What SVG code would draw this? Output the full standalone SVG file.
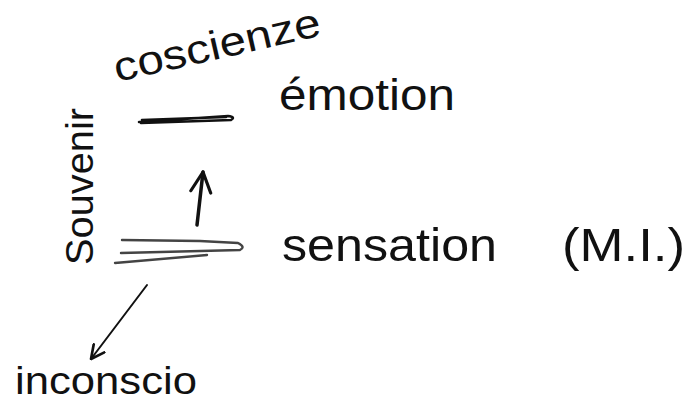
<svg xmlns="http://www.w3.org/2000/svg" width="690" height="406" viewBox="0 0 690 406">
<defs>
<style>
.t{font-family:"Liberation Sans","DejaVu Sans",sans-serif;fill:#111;}
.ln{fill:none;stroke:#111;stroke-linecap:round;stroke-linejoin:round;}
</style>
<marker id="head" markerUnits="userSpaceOnUse" markerWidth="24" markerHeight="24" viewBox="0 0 12 12" refX="11" refY="6" orient="auto">
<path d="M1,1 L11,6 L1,11" fill="none" stroke="#111" stroke-width="1.6" stroke-linecap="round" stroke-linejoin="round"/>
</marker>
<marker id="headS" markerUnits="userSpaceOnUse" markerWidth="16" markerHeight="16" viewBox="0 0 12 12" refX="11" refY="6" orient="auto">
<path d="M1,1 L11,6 L1,11" fill="none" stroke="#111" stroke-width="2" stroke-linecap="round" stroke-linejoin="round"/>
</marker>
</defs>
<rect width="690" height="406" fill="#fff"/>

<g id="coscienze">
<text class="t" x="117" y="82" font-size="41" textLength="211" lengthAdjust="spacingAndGlyphs" transform="rotate(-12.8 117 82)">coscienze</text>
</g>

<g id="emotion">
<text class="t" x="279" y="110" font-size="44" textLength="176" lengthAdjust="spacingAndGlyphs">émotion</text>
<path class="ln" d="M139,122 L228,116 Q236,117 231,120 L141,123 M142,120 L226,117" stroke-width="2.6"/>
</g>

<g id="sensation">
<path d="M122,240 L200,241 L238,243 Q246,247 240,250 L121,253 M115,263 L207,255" fill="none" stroke="#444" stroke-width="2.4" stroke-linecap="round" stroke-linejoin="round"/>
<text class="t" y="261" font-size="46"><tspan x="282" textLength="215" lengthAdjust="spacingAndGlyphs">sensation</tspan><tspan x="562" textLength="123" lengthAdjust="spacingAndGlyphs">(M.I.)</tspan></text>
</g>

<g id="souvenir">
<text class="t" x="93" y="265" font-size="38" textLength="157" lengthAdjust="spacingAndGlyphs" transform="rotate(-90 93 265)">Souvenir</text>
</g>

<g id="inconscio">
<text class="t" x="15" y="394" font-size="38" textLength="182" lengthAdjust="spacingAndGlyphs">inconscio</text>
</g>

<g id="connectors">
<path class="ln" d="M197,225 L203,172" stroke-width="3.5" marker-end="url(#head)"/>
<path class="ln" d="M147,285 L91,359" stroke-width="2" marker-end="url(#headS)"/>
</g>
</svg>
